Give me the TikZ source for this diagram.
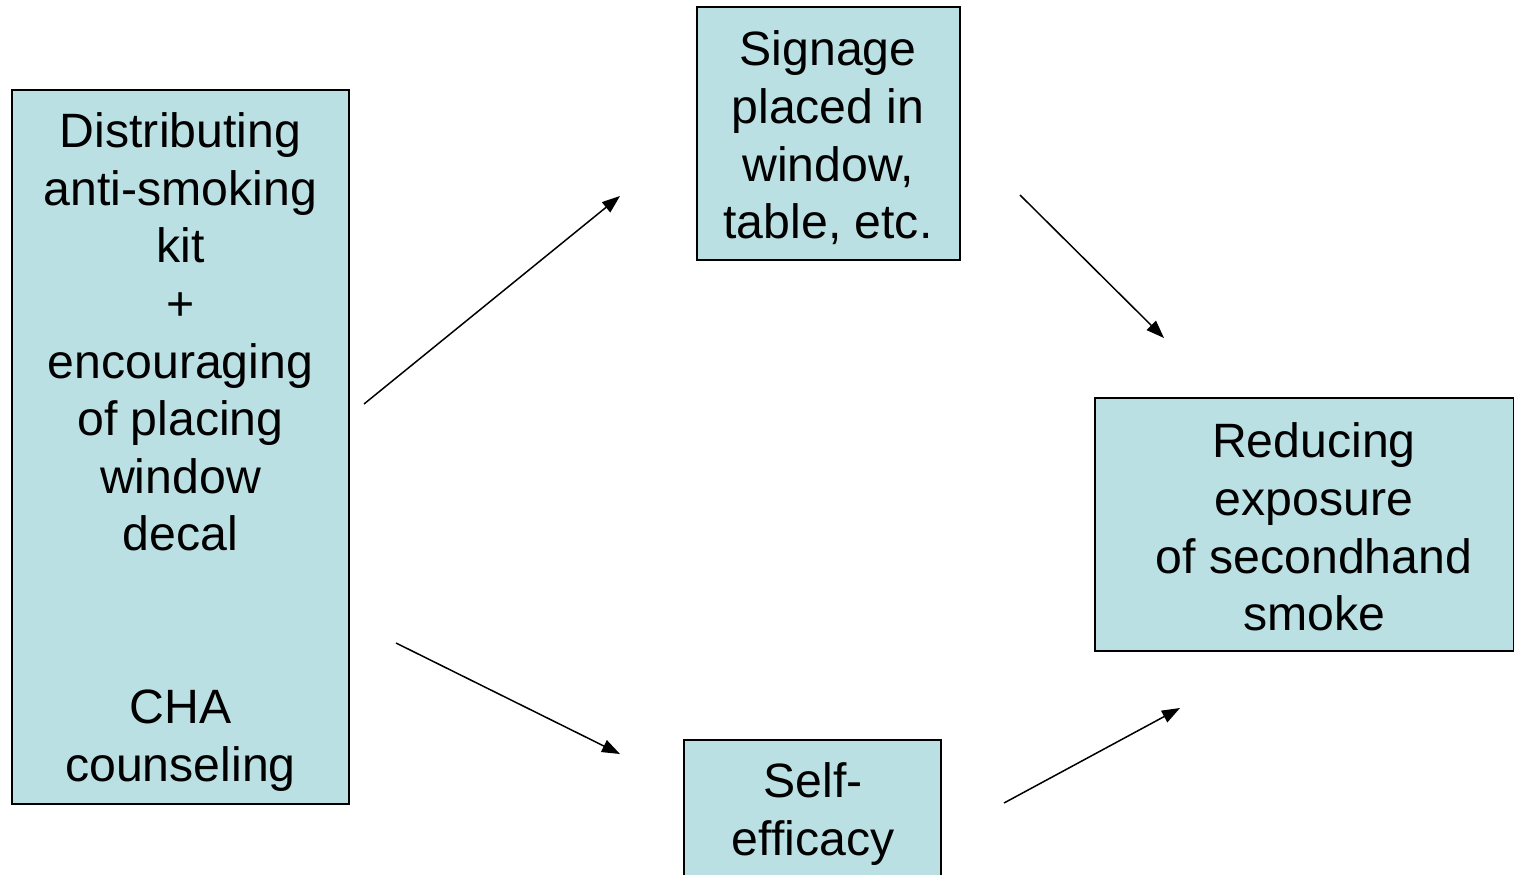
\documentclass[tikz,border=0pt]{standalone}
\usepackage{fontspec}
\setmainfont{Liberation Sans}
\usetikzlibrary{arrows.meta}
\definecolor{boxfill}{HTML}{BBE0E3}
\begin{document}
\begin{tikzpicture}[x=0.5pt,y=-0.5pt,
  box/.style={draw=black, line width=0.8pt, fill=boxfill, inner sep=0pt},
  txt/.style={inner sep=0pt, align=center, font=\fontsize{24.1pt}{28.8pt}\selectfont},
  arr/.style={line width=0.75pt, -{Triangle[length=9pt,width=6.5pt]}}]
\clip (0,0) rectangle (1514,874);
\fill[white] (0,0) rectangle (1514,874);
\node[box, minimum width=168.5pt, minimum height=357pt] (kit) at (180.5,447) {};
\node[txt] (kittxt) at (180.5,452)
  {Distributing\\anti-smoking\\kit\\+\\encouraging\\of placing\\window\\decal\\[57.6pt]CHA\\counseling};
\node[box, minimum width=131.5pt, minimum height=126.5pt] (sign) at (828.5,133.5) {};
\node[txt] (signtxt) at (828,138) {Signage\\placed in\\window,\\table, etc.};
\node[box, minimum width=209.5pt, minimum height=126.5pt] (reduce) at (1304.5,524.5) {};
\node[txt] (reducetxt) at (1314,527) {Reducing\\exposure\\of secondhand\\smoke};
\node[box, minimum width=128.5pt, minimum height=126.5pt, anchor=north] (self) at (812.5,739) {};
\node[txt] (selftxt) at (813,814) {Self-\\efficacy};
\coordinate (a1s) at (364,404);
\coordinate (a1e) at (620,196);
\coordinate (a2s) at (1020,195);
\coordinate (a2e) at (1164,338);
\coordinate (a3s) at (396,643);
\coordinate (a3e) at (620,754);
\coordinate (a4s) at (1004,803);
\coordinate (a4e) at (1180,708);
\draw[arr] (a1s) -- (a1e);
\draw[arr] (a2s) -- (a2e);
\draw[arr] (a3s) -- (a3e);
\draw[arr] (a4s) -- (a4e);
\end{tikzpicture}
\end{document}
